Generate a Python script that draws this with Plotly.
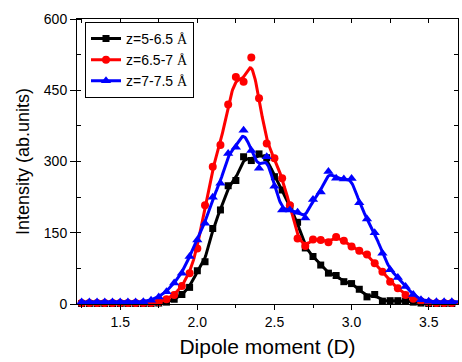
import numpy as np
import plotly.graph_objects as go

# Dipole moment grid (D)
dipole = [1.25, 1.30, 1.35, 1.40, 1.45, 1.50, 1.55, 1.60, 1.65, 1.70,
          1.75, 1.80, 1.85, 1.90, 1.95, 2.00, 2.05, 2.10, 2.15, 2.20,
          2.25, 2.30, 2.35, 2.40, 2.45, 2.50, 2.55, 2.60, 2.65, 2.70,
          2.75, 2.80, 2.85, 2.90, 2.95, 3.00, 3.05, 3.10, 3.15, 3.20,
          3.25, 3.30, 3.35, 3.40, 3.45, 3.50, 3.55, 3.60, 3.65, 3.70]

# Intensity (ab.units) for each z slab
z_5_65 = [1, 1, 1, 1, 1, 1, 1, 1, 1, 1,
          2, 4, 10, 20, 35, 70, 89, 159, 198, 249,
          260, 310, 302, 316, 308, 268, 240, 205, 172, 118,
          100, 82, 65, 60, 47, 43, 31, 15, 20, 6,
          7, 7, 6, 4, 2, 1, 1, 1, 1, 1]

z_65_7 = [2, 2, 2, 2, 2, 2, 2, 2, 2, 2,
          4, 10, 19, 38, 65, 117, 208, 289, 335, 420,
          478, 468, 519, 433, 338, 307, 265, 208, 138, 122,
          136, 135, 130, 141, 133, 121, 112, 104, 86, 68,
          47, 33, 19, 11, 6, 3, 2, 2, 2, 2]

z_7_75 = [4, 4, 4, 4, 4, 4, 4, 4, 5, 8,
          15, 26, 44, 65, 100, 135, 170, 225, 254, 317,
          330, 366, 323, 286, 310, 248, 198, 198, 193, 181,
          220, 236, 279, 265, 263, 264, 213, 179, 150, 107,
          72, 56, 37, 20, 9, 6, 5, 5, 5, 5]

series_names = ["z=5-6.5 Å", "z=6.5-7 Å", "z=7-7.5 Å"]
series_values = [z_5_65, z_65_7, z_7_75]
colors = ["#000000", "#ff0000", "#0000ff"]
symbols = ["square", "circle", "triangle-up"]
sizes = [7, 8, 9]


def bspline(xs, ys, steps=12):
    """Uniform cubic B-spline through the given control points."""
    px = np.concatenate([[xs[0]], xs, [xs[-1]]]).astype(float)
    py = np.concatenate([[ys[0]], ys, [ys[-1]]]).astype(float)
    t = np.linspace(0, 1, steps, endpoint=False)
    b0 = (1 - t) ** 3 / 6
    b1 = (3 * t ** 3 - 6 * t ** 2 + 4) / 6
    b2 = (-3 * t ** 3 + 3 * t ** 2 + 3 * t + 1) / 6
    b3 = t ** 3 / 6
    ox, oy = [], []
    for i in range(len(px) - 3):
        ox.extend(b0 * px[i] + b1 * px[i + 1] + b2 * px[i + 2] + b3 * px[i + 3])
        oy.extend(b0 * py[i] + b1 * py[i + 1] + b2 * py[i + 2] + b3 * py[i + 3])
    ox.append(xs[-1])
    oy.append(ys[-1])
    return ox, oy


fig = go.Figure()

for name, vals, col, sym, sz in zip(series_names, series_values, colors, symbols, sizes):
    on_top = col == "#0000ff"
    xa, ya = ("x2", "y2") if on_top else ("x", "y")
    sx, sy = bspline(np.array(dipole), np.array(vals))
    fig.add_trace(go.Scatter(x=sx, y=sy, mode="lines", xaxis=xa, yaxis=ya,
                             line=dict(color=col, width=3), showlegend=False,
                             hoverinfo="skip"))
    fig.add_trace(go.Scatter(x=dipole, y=vals, mode="markers", xaxis=xa, yaxis=ya,
                             marker=dict(symbol=sym, size=sz, color=col, line=dict(width=0)),
                             showlegend=False, cliponaxis=False))
    # legend entry
    label = name.replace("Å", "<span style='font-family:Liberation Serif'>Å</span>")
    fig.add_trace(go.Scatter(x=[None], y=[None], mode="lines+markers", name=label,
                             line=dict(color=col, width=3),
                             marker=dict(symbol=sym, size=sz, color=col)))

x_range = [1.22, 3.69]
y_range = [0, 600]
tick_font = dict(family="Liberation Sans, Arial, sans-serif", size=14, color="#000000")

fig.update_layout(
    width=462, height=362,
    margin=dict(l=77, r=4, t=19, b=58),
    paper_bgcolor="white", plot_bgcolor="white",
    font=dict(family="Liberation Sans, Arial, sans-serif", color="#000000"),
    xaxis=dict(range=x_range, tick0=1.5, dtick=0.5, tickformat=".1f",
               ticks="outside", ticklen=5, tickwidth=1, tickcolor="#000",
               minor=dict(dtick=0.25, ticks="outside", ticklen=3, tickcolor="#000"),
               showline=True, linecolor="#000", linewidth=1, showgrid=False,
               zeroline=False, tickfont=tick_font,
               title=dict(text="Dipole moment (D)", font=dict(size=21), standoff=10)),
    yaxis=dict(range=y_range, tick0=0, dtick=150,
               ticks="outside", ticklen=6, tickwidth=1, tickcolor="#000",
               minor=dict(dtick=75, ticks="inside", ticklen=4, tickcolor="#000"),
               showline=True, linecolor="#000", linewidth=1, showgrid=False,
               zeroline=False, tickfont=tick_font,
               title=dict(text="Intensity (ab.units)", font=dict(size=18), standoff=9)),
    xaxis2=dict(range=x_range, overlaying="x", side="top", tick0=1.5, dtick=0.25,
                ticks="inside", ticklen=4, tickcolor="#000", showticklabels=False,
                showline=True, linecolor="#000", linewidth=1, showgrid=False,
                zeroline=False),
    yaxis2=dict(range=y_range, overlaying="y", side="right", tick0=0, dtick=75,
                ticks="inside", ticklen=4, tickcolor="#000", showticklabels=False,
                showline=True, linecolor="#000", linewidth=1, showgrid=False,
                zeroline=False),
    legend=dict(x=0.021, y=0.99, xanchor="left", yanchor="top",
                bordercolor="#000", borderwidth=1, bgcolor="white",
                font=dict(size=14), tracegroupgap=0, itemwidth=30),
)

fig.write_html("out.html")
